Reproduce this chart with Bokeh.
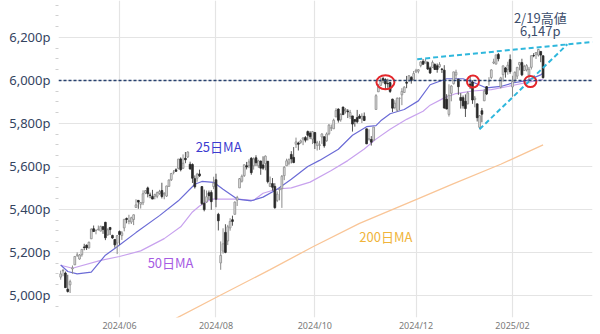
from bokeh.plotting import figure
from bokeh.models import ColumnDataSource, Span, FixedTicker
from bokeh.core.properties import value
from bokeh.embed import file_html
from bokeh.resources import INLINE

# ---------------- data (S&P 500 daily candles) ----------------
dates = [
    "2024-04-26", "2024-04-29", "2024-04-30",
    "2024-05-01", "2024-05-02", "2024-05-03", "2024-05-06", "2024-05-07", "2024-05-08", "2024-05-09", "2024-05-10",
    "2024-05-13", "2024-05-14", "2024-05-15", "2024-05-16", "2024-05-17", "2024-05-20", "2024-05-21", "2024-05-22",
    "2024-05-23", "2024-05-24", "2024-05-28", "2024-05-29", "2024-05-30", "2024-05-31",
    "2024-06-03", "2024-06-04", "2024-06-05", "2024-06-06", "2024-06-07", "2024-06-10", "2024-06-11", "2024-06-12",
    "2024-06-13", "2024-06-14", "2024-06-17", "2024-06-18", "2024-06-20", "2024-06-21", "2024-06-24", "2024-06-25",
    "2024-06-26", "2024-06-27", "2024-06-28",
    "2024-07-01", "2024-07-02", "2024-07-03", "2024-07-05", "2024-07-08", "2024-07-09", "2024-07-10", "2024-07-11",
    "2024-07-12", "2024-07-15", "2024-07-16", "2024-07-17", "2024-07-18", "2024-07-19", "2024-07-22", "2024-07-23",
    "2024-07-24", "2024-07-25", "2024-07-26", "2024-07-29", "2024-07-30", "2024-07-31",
    "2024-08-01", "2024-08-02", "2024-08-05", "2024-08-06", "2024-08-07", "2024-08-08", "2024-08-09", "2024-08-12",
    "2024-08-13", "2024-08-14", "2024-08-15", "2024-08-16", "2024-08-19", "2024-08-20", "2024-08-21", "2024-08-22",
    "2024-08-23", "2024-08-26", "2024-08-27", "2024-08-28", "2024-08-29", "2024-08-30",
    "2024-09-03", "2024-09-04", "2024-09-05", "2024-09-06", "2024-09-09", "2024-09-10", "2024-09-11", "2024-09-12",
    "2024-09-13", "2024-09-16", "2024-09-17", "2024-09-18", "2024-09-19", "2024-09-20", "2024-09-23", "2024-09-24",
    "2024-09-25", "2024-09-26", "2024-09-27", "2024-09-30",
    "2024-10-01", "2024-10-02", "2024-10-03", "2024-10-04", "2024-10-07", "2024-10-08", "2024-10-09", "2024-10-10",
    "2024-10-11", "2024-10-14", "2024-10-15", "2024-10-16", "2024-10-17", "2024-10-18", "2024-10-21", "2024-10-22",
    "2024-10-23", "2024-10-24", "2024-10-25", "2024-10-28", "2024-10-29", "2024-10-30", "2024-10-31",
    "2024-11-01", "2024-11-04", "2024-11-05", "2024-11-06", "2024-11-07", "2024-11-08", "2024-11-11", "2024-11-12",
    "2024-11-13", "2024-11-14", "2024-11-15", "2024-11-18", "2024-11-19", "2024-11-20", "2024-11-21", "2024-11-22",
    "2024-11-25", "2024-11-26", "2024-11-27", "2024-11-29",
    "2024-12-02", "2024-12-03", "2024-12-04", "2024-12-05", "2024-12-06", "2024-12-09", "2024-12-10", "2024-12-11",
    "2024-12-12", "2024-12-13", "2024-12-16", "2024-12-17", "2024-12-18", "2024-12-19", "2024-12-20", "2024-12-23",
    "2024-12-24", "2024-12-26", "2024-12-27", "2024-12-30", "2024-12-31",
    "2025-01-02", "2025-01-03", "2025-01-06", "2025-01-07", "2025-01-08", "2025-01-10", "2025-01-13", "2025-01-14",
    "2025-01-15", "2025-01-16", "2025-01-17", "2025-01-21", "2025-01-22", "2025-01-23", "2025-01-24", "2025-01-27",
    "2025-01-28", "2025-01-29", "2025-01-30", "2025-01-31",
    "2025-02-03", "2025-02-04", "2025-02-05", "2025-02-06", "2025-02-07", "2025-02-10", "2025-02-11", "2025-02-12",
    "2025-02-13", "2025-02-14", "2025-02-18", "2025-02-19", "2025-02-20", "2025-02-21",
]

opens = [
    5085, 5114, 5104,
    5029, 5049, 5123, 5142, 5187, 5169, 5189, 5225, 5233, 5221, 5263, 5310, 5303, 5305, 5299, 5319, 5340, 5281, 5316, 5279, 5260, 5243,
    5297, 5278, 5314, 5358, 5344, 5341, 5353, 5409, 5442, 5424, 5431, 5476, 5500, 5467, 5460, 5461, 5461, 5474, 5488,
    5471, 5462, 5507, 5538, 5573, 5584, 5591, 5635, 5591, 5638, 5644, 5610, 5609, 5543, 5545, 5565, 5506, 5429, 5434, 5477, 5479, 5506,
    5538, 5377, 5151, 5206, 5293, 5253, 5314, 5352, 5377, 5443, 5500, 5531, 5557, 5603, 5603, 5638, 5603, 5640, 5603, 5625, 5607, 5613,
    5624, 5507, 5520, 5507, 5442, 5491, 5496, 5557, 5603, 5615, 5656, 5642, 5703, 5709, 5712, 5727, 5734, 5762, 5755, 5727,
    5758, 5698, 5698, 5737, 5738, 5719, 5752, 5778, 5775, 5830, 5867, 5817, 5876, 5859, 5858, 5833, 5835, 5818, 5827, 5834, 5820, 5833, 5775,
    5723, 5725, 5722, 5865, 5947, 5977, 6009, 6004, 5986, 5990, 5913, 5874, 5861, 5917, 5933, 5944, 5992, 6000, 6014, 6004,
    6040, 6043, 6069, 6089, 6081, 6083, 6058, 6060, 6074, 6068, 6064, 6053, 6048, 5913, 5842, 5940, 5985, 6025, 6006, 5921, 5920,
    5903, 5891, 5983, 5993, 5911, 5891, 5782, 5859, 5905, 5971, 5995, 6014, 6081, 6076, 6121, 5969, 6027, 6058, 6051, 6097,
    5970, 5998, 6020, 6072, 6083, 6046, 6049, 6025, 6061, 6116, 6122, 6118, 6135, 6115,
]

highs = [
    5115, 5123, 5111,
    5096, 5073, 5139, 5181, 5200, 5192, 5215, 5240, 5237, 5250, 5312, 5325, 5305, 5325, 5324, 5323, 5342, 5312, 5316, 5282, 5260, 5280,
    5302, 5299, 5354, 5362, 5375, 5366, 5376, 5447, 5442, 5432, 5489, 5490, 5506, 5478, 5491, 5473, 5483, 5491, 5524,
    5480, 5510, 5539, 5570, 5583, 5591, 5635, 5642, 5656, 5667, 5670, 5622, 5614, 5558, 5570, 5585, 5508, 5492, 5488, 5488, 5489, 5552,
    5566, 5384, 5251, 5312, 5331, 5328, 5359, 5371, 5437, 5463, 5546, 5562, 5608, 5621, 5633, 5643, 5642, 5652, 5631, 5627, 5647, 5651,
    5624, 5553, 5546, 5522, 5484, 5498, 5560, 5601, 5636, 5636, 5671, 5690, 5734, 5715, 5725, 5735, 5741, 5767, 5764, 5765,
    5758, 5719, 5719, 5754, 5739, 5758, 5797, 5795, 5822, 5871, 5870, 5847, 5878, 5872, 5867, 5863, 5835, 5818, 5863, 5843, 5847, 5851, 5775,
    5773, 5741, 5783, 5936, 5984, 6012, 6017, 6010, 6008, 5994, 5915, 5908, 5921, 5921, 5964, 5973, 6021, 6025, 6020, 6044,
    6054, 6052, 6089, 6100, 6100, 6089, 6065, 6093, 6080, 6079, 6085, 6058, 6071, 5936, 5982, 5978, 6040, 6050, 6006, 5941, 5930,
    5935, 5949, 6021, 6001, 5928, 5891, 5839, 5872, 5961, 5974, 6015, 6052, 6101, 6119, 6128, 6017, 6069, 6063, 6087, 6121,
    6022, 6042, 6063, 6084, 6101, 6073, 6076, 6063, 6117, 6127, 6130, 6147, 6135, 6115,
]

lows = [
    5073, 5089, 5035,
    5013, 5011, 5101, 5142, 5179, 5166, 5180, 5210, 5211, 5218, 5263, 5296, 5284, 5302, 5298, 5286, 5257, 5278, 5281, 5263, 5222, 5192,
    5234, 5258, 5298, 5335, 5331, 5332, 5327, 5409, 5403, 5404, 5420, 5471, 5456, 5452, 5448, 5447, 5452, 5468, 5451,
    5447, 5458, 5507, 5532, 5563, 5575, 5586, 5577, 5590, 5615, 5639, 5585, 5523, 5497, 5529, 5551, 5420, 5391, 5431, 5444, 5398, 5494,
    5410, 5302, 5119, 5194, 5196, 5234, 5301, 5324, 5377, 5416, 5500, 5525, 5551, 5586, 5592, 5561, 5585, 5602, 5593, 5561, 5584, 5582,
    5521, 5504, 5487, 5403, 5434, 5442, 5407, 5536, 5602, 5605, 5614, 5615, 5686, 5674, 5705, 5699, 5712, 5721, 5727, 5704,
    5681, 5674, 5677, 5705, 5687, 5715, 5745, 5765, 5775, 5830, 5804, 5808, 5840, 5846, 5825, 5821, 5762, 5785, 5800, 5823, 5802, 5811, 5704,
    5723, 5697, 5722, 5865, 5947, 5977, 5987, 5960, 5966, 5942, 5853, 5866, 5854, 5861, 5885, 5944, 5964, 5992, 5985, 6004,
    6035, 6033, 6061, 6080, 6080, 6049, 6030, 6060, 6051, 6036, 6059, 6035, 5868, 5866, 5832, 5903, 5981, 6007, 5933, 5869, 5869,
    5830, 5889, 5960, 5891, 5875, 5809, 5773, 5805, 5905, 5932, 5976, 6007, 6076, 6075, 6089, 5963, 5994, 6013, 6027, 6031,
    5924, 5991, 6007, 6047, 6020, 6045, 6042, 6003, 6051, 6108, 6100, 6111, 6085, 6009,
]

closes = [
    5100, 5116, 5036,
    5018, 5064, 5128, 5181, 5188, 5188, 5214, 5223, 5221, 5247, 5308, 5297, 5303, 5308, 5321, 5307, 5268, 5305, 5306, 5267, 5235, 5278,
    5283, 5291, 5354, 5353, 5347, 5361, 5375, 5421, 5434, 5432, 5473, 5487, 5473, 5465, 5448, 5469, 5478, 5483, 5460,
    5475, 5509, 5537, 5567, 5573, 5577, 5634, 5585, 5615, 5631, 5667, 5588, 5545, 5505, 5564, 5556, 5427, 5399, 5459, 5464, 5436, 5522,
    5447, 5347, 5186, 5240, 5200, 5319, 5344, 5344, 5434, 5455, 5543, 5554, 5608, 5597, 5621, 5571, 5635, 5617, 5626, 5592, 5592, 5648,
    5529, 5520, 5503, 5408, 5471, 5496, 5554, 5596, 5626, 5633, 5635, 5618, 5714, 5703, 5719, 5733, 5722, 5745, 5738, 5762,
    5709, 5710, 5700, 5751, 5696, 5751, 5792, 5780, 5815, 5860, 5815, 5842, 5841, 5865, 5854, 5851, 5797, 5810, 5808, 5824, 5833, 5814, 5705,
    5729, 5713, 5783, 5929, 5973, 5996, 6001, 5984, 5985, 5949, 5871, 5894, 5917, 5917, 5949, 5969, 5987, 6022, 5999, 6032,
    6047, 6050, 6086, 6075, 6090, 6053, 6035, 6084, 6051, 6051, 6074, 6051, 5872, 5867, 5931, 5974, 6040, 6038, 5971, 5907, 5882,
    5869, 5942, 5975, 5909, 5918, 5827, 5836, 5843, 5950, 5937, 5997, 6049, 6086, 6119, 6101, 6012, 6068, 6039, 6071, 6041,
    5995, 6038, 6061, 6084, 6026, 6066, 6069, 6052, 6115, 6115, 6130, 6144, 6118, 6013,
]

# moving averages (trading-day index, value)
ma25_idx = [0, 3, 7, 13, 19, 24, 32, 42, 50, 57, 60, 65, 69, 75, 81, 86, 92, 98, 105, 110, 118, 124, 130, 134, 136,
            140, 146, 152, 157, 164, 171, 176, 181, 187, 192, 198, 204, 205]
ma25_val = [5141, 5111, 5100, 5108, 5187, 5226, 5292, 5371, 5440, 5517, 5530, 5526, 5494, 5448, 5440, 5457, 5494, 5540,
            5600, 5628, 5680, 5745, 5785, 5790, 5812, 5845, 5865, 5905, 5980, 6008, 6008, 5988, 5965, 5972, 5988, 5999,
            6026, 6035]

ma50_idx = [0, 5, 17, 25, 34, 44, 51, 56, 59, 64, 71, 75, 82, 86, 92, 98, 106, 115, 122, 129, 134, 140, 147, 154, 157,
            163, 168, 175, 183, 190, 197, 205]
ma50_val = [5140, 5126, 5163, 5181, 5207, 5264, 5319, 5388, 5416, 5448, 5448, 5448, 5442, 5475, 5495, 5500, 5527, 5581,
            5627, 5681, 5727, 5773, 5819, 5857, 5885, 5919, 5939, 5951, 5957, 5972, 5988, 6005]

ma200_idx = [49, 66, 89, 107, 127, 152, 166, 187, 205]
ma200_val = [4893, 4990, 5120, 5225, 5335, 5450, 5515, 5610, 5700]

# trend lines (index, value)
upper_trend_idx = [151.5, 226.0]
upper_trend_val = [6099, 6179]
lower_trend_idx = [178.0, 215.3]
lower_trend_val = [5773, 6168]

# red circles marking touches of the 6,000p line / 25MA
circle_idx = [138.0, 175.2, 199.6]
circle_val = [5992, 5995, 5995]
circle_w = [18, 12, 12]
circle_h = [14, 12, 11]

y_ticks = [5000, 5200, 5400, 5600, 5800, 6000, 6200]
y_tick_labels = ["5,000p", "5,200p", "5,400p", "5,600p", "5,800p", "6,000p", "6,200p"]
x_tick_months = ["2024-06", "2024-08", "2024-10", "2024-12", "2025-02"]
x_tick_labels = ["2024/06", "2024/08", "2024/10", "2024/12", "2025/02"]

ma_labels = ["25日MA", "50日MA", "200日MA"]
ma_label_idx = [67.1, 46.7, 138.2]
ma_label_val = [5694, 5151, 5275]
ma_label_colors = ["#3b3bd0", "#a65be3", "#f0b43a"]

peak_text = ["2/19高値", "6,147p"]
peak_idx = [203.8, 203.8]
peak_val = [6295, 6234]

# ---------------- figure ----------------
p = figure(width=600, height=334, x_range=(-0.93, 226.0), y_range=(4897, 6372),
           output_backend="svg", toolbar_location=None,
           min_border_left=58, min_border_right=8, min_border_top=0, min_border_bottom=14)
p.outline_line_color = None
p.background_fill_color = "white"
p.border_fill_color = "white"

idx = list(range(len(dates)))
x_ticks = [next(i for i, d in enumerate(dates) if d.startswith(m)) for m in x_tick_months]

p.xaxis.ticker = FixedTicker(ticks=x_ticks)
p.xaxis.major_label_overrides = {t: l for t, l in zip(x_ticks, x_tick_labels)}
p.xaxis.axis_line_color = None
p.xaxis.major_tick_line_color = None
p.xaxis.minor_tick_line_color = None
p.xaxis.major_tick_out = 0
p.xaxis.major_tick_in = 0
p.xaxis.minor_tick_out = 0
p.xaxis.minor_tick_in = 0
p.xaxis.major_label_text_font = "Noto Sans"
p.xaxis.major_label_text_font_size = "9px"
p.xaxis.major_label_text_color = "#7a7a7a"
p.xaxis.major_label_standoff = 1

minor = [v for v in range(4950, 6351, 50) if v not in y_ticks]
p.yaxis.ticker = FixedTicker(ticks=y_ticks, minor_ticks=minor)
p.yaxis.major_label_overrides = {t: l for t, l in zip(y_ticks, y_tick_labels)}
p.yaxis.axis_line_color = None
p.yaxis.major_tick_line_color = None
p.yaxis.major_tick_out = 0
p.yaxis.major_tick_in = 0
p.yaxis.minor_tick_line_color = "#d0d0d0"
p.yaxis.minor_tick_out = 3
p.yaxis.minor_tick_in = 0
p.yaxis.major_label_text_font = "Noto Sans"
p.yaxis.major_label_text_font_size = "13px"
p.yaxis.major_label_text_color = "#34445f"
p.yaxis.major_label_standoff = 5

p.xgrid.grid_line_color = "#e4e4e4"
p.ygrid.grid_line_color = "#e4e4e4"
p.xgrid.grid_line_width = 1.2
p.ygrid.grid_line_width = 1.2

# moving averages
p.line(ma200_idx, ma200_val, line_color="#f9c597", line_width=1.3)
p.line(ma50_idx, ma50_val, line_color="#c8a2ee", line_width=1.2)
p.line(ma25_idx, ma25_val, line_color="#6b6bd6", line_width=1.2)

# candles
up = [c >= o for o, c in zip(opens, closes)]
def cds(flag):
    sel = [i for i in idx if up[i] == flag]
    return ColumnDataSource(dict(
        x=sel,
        high=[highs[i] for i in sel], low=[lows[i] for i in sel],
        top=[max(opens[i], closes[i]) for i in sel],
        bottom=[min(opens[i], closes[i]) for i in sel]))

src_up, src_dn = cds(True), cds(False)
p.segment(x0="x", y0="high", x1="x", y1="low", source=src_up, line_color="#8a8a8a", line_width=1)
p.segment(x0="x", y0="high", x1="x", y1="low", source=src_dn, line_color="#555555", line_width=1)
p.vbar(x="x", width=0.75, top="top", bottom="bottom", source=src_up,
       fill_color="#e4e4e4", line_color="#8a8a8a", line_width=0.8)
p.vbar(x="x", width=0.75, top="top", bottom="bottom", source=src_dn,
       fill_color="#2a2a2a", line_color="#2a2a2a", line_width=0.8)

# 6,000p reference line
p.add_layout(Span(location=6000, dimension="width", line_color="#27406e",
                  line_dash="3 2", line_width=1.4))

# trend lines
p.line(upper_trend_idx, upper_trend_val, line_color="#2fb7dc", line_width=2, line_dash="5 3")
p.line(lower_trend_idx, lower_trend_val, line_color="#2fb7dc", line_width=2, line_dash="5 3")

# red circles
p.ellipse(x=circle_idx, y=circle_val, width=circle_w, height=circle_h,
          width_units="screen", height_units="screen",
          fill_alpha=0, line_color="#e4262b", line_width=2)

# labels
p.text(x=ma_label_idx, y=ma_label_val, text=ma_labels, text_color=ma_label_colors,
       text_font=value("Noto Sans CJK JP"), text_font_size="13px",
       text_align="center", text_baseline="middle")
p.text(x=peak_idx, y=peak_val, text=peak_text, text_color="#3c4d6b",
       text_font=value("Noto Sans CJK JP"), text_font_size="13px",
       text_align="center", text_baseline="middle")

open("out.html", "w").write(file_html(p, INLINE))
